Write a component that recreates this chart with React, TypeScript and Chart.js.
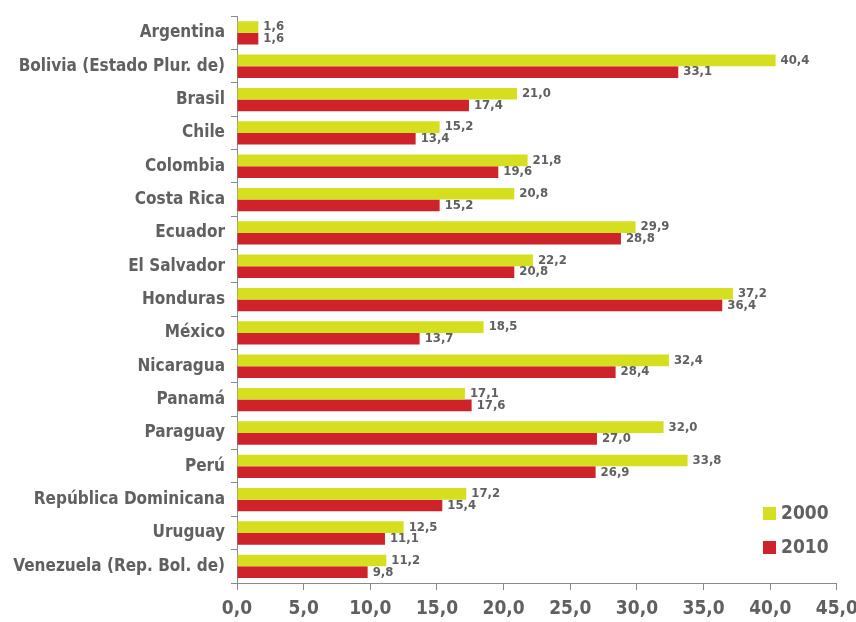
import React, { useEffect, useRef } from "react";
import { Chart, registerables } from "chart.js";

Chart.register(...registerables);

const categories = [
  "Argentina",
  "Bolivia (Estado Plur. de)",
  "Brasil",
  "Chile",
  "Colombia",
  "Costa Rica",
  "Ecuador",
  "El Salvador",
  "Honduras",
  "México",
  "Nicaragua",
  "Panamá",
  "Paraguay",
  "Perú",
  "República Dominicana",
  "Uruguay",
  "Venezuela (Rep. Bol. de)",
];

const series2000 = [1.6, 40.4, 21.0, 15.2, 21.8, 20.8, 29.9, 22.2, 37.2, 18.5, 32.4, 17.1, 32.0, 33.8, 17.2, 12.5, 11.2];
const series2010 = [1.6, 33.1, 17.4, 13.4, 19.6, 15.2, 28.8, 20.8, 36.4, 13.7, 28.4, 17.6, 27.0, 26.9, 15.4, 11.1, 9.8];
const seriesNames = ["2000", "2010"];
const xMin = 0;
const xMax = 45;
const xStep = 5;

const FONT = "'Liberation Sans Narrow', 'DejaVu Sans Condensed', 'Roboto Condensed', sans-serif";
const TEXT = "#606060";
const AXIS = "#8a8a8a";
const COLORS = ["#d5df20", "#cf232b"];

const fmt = (v: number) => v.toFixed(1).replace(".", ",");

const labelsPlugin = {
  id: "valueLabels",
  afterDatasetsDraw(chart: any) {
    const ctx = chart.ctx;
    ctx.save();
    ctx.font = `bold 13px ${FONT}`;
    ctx.fillStyle = TEXT;
    ctx.textAlign = "left";
    ctx.textBaseline = "middle";
    chart.data.datasets.forEach((ds: any, di: number) => {
      const meta = chart.getDatasetMeta(di);
      meta.data.forEach((bar: any, i: number) => {
        ctx.fillText(fmt(ds.data[i]), bar.x + 5, bar.y);
      });
    });
    ctx.restore();
  },
  afterDraw(chart: any) {
    const ctx = chart.ctx;
    ctx.save();
    ctx.font = `bold 19px ${FONT}`;
    ctx.textAlign = "left";
    ctx.textBaseline = "middle";
    seriesNames.forEach((name, i) => {
      const y = 514 + i * 34;
      ctx.fillStyle = COLORS[i];
      ctx.fillRect(763, y - 7, 13, 13);
      ctx.fillStyle = TEXT;
      ctx.fillText(name, 781, y);
    });
    ctx.restore();
  },
};

export default function App() {
  const ref = useRef<HTMLCanvasElement | null>(null);
  useEffect(() => {
    document.body.style.margin = "0";
    const chart = new Chart(ref.current as HTMLCanvasElement, {
      type: "bar",
      data: {
        labels: categories,
        datasets: [
          { label: seriesNames[0], data: series2000, backgroundColor: COLORS[0], barPercentage: 1, categoryPercentage: 0.7 },
          { label: seriesNames[1], data: series2010, backgroundColor: COLORS[1], barPercentage: 1, categoryPercentage: 0.7 },
        ],
      },
      options: {
        indexAxis: "y",
        animation: false,
        responsive: false,
        maintainAspectRatio: false,
        layout: { padding: { top: 13, right: 0, left: 0, bottom: 0 } },
        plugins: { legend: { display: false }, tooltip: { enabled: false } },
        scales: {
          x: {
            min: xMin,
            max: xMax,
            afterFit: (s: any) => { s.height = 39; },
            border: { display: true, color: AXIS, width: 1 },
            grid: { drawOnChartArea: false, drawTicks: true, tickLength: 7, color: AXIS },
            ticks: {
              stepSize: xStep,
              color: TEXT,
              padding: 8,
              maxRotation: 0,
              font: { family: FONT, size: 19, weight: "bold" },
              callback: (v: any) => fmt(Number(v)),
            },
          },
          y: {
            afterFit: (s: any) => { s.width = 237; },
            border: { display: true, color: AXIS, width: 1 },
            grid: { drawOnChartArea: false, drawTicks: true, tickLength: 6, color: AXIS, offset: true },
            ticks: {
              color: TEXT,
              padding: 6,
              font: { family: FONT, size: 17, weight: "bold" },
            },
          },
        },
      } as any,
      plugins: [labelsPlugin],
    });
    return () => chart.destroy();
  }, []);
  return (
    <div style={{ width: 856, height: 622, overflow: "hidden" }}>
      <canvas ref={ref} width={866} height={622} style={{ display: "block" }} />
    </div>
  );
}
